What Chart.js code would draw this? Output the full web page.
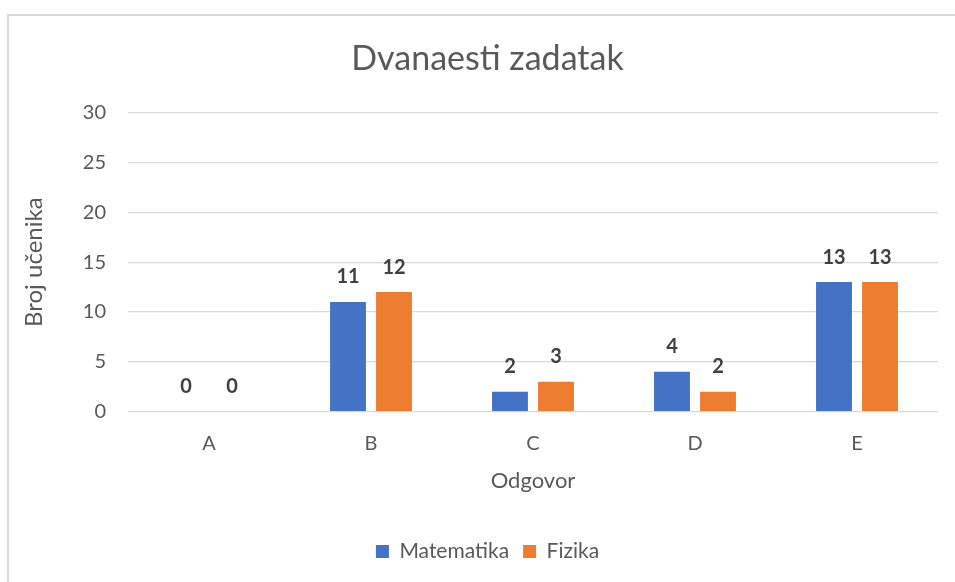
<!DOCTYPE html>
<html>
<head>
<meta charset="utf-8">
<script src="https://cdn.jsdelivr.net/npm/chart.js@4"></script>
<style>
  html, body { margin: 0; padding: 0; background: #fff; }
  #wrap { position: relative; width: 955px; height: 582px; }
</style>
</head>
<body>
<div id="wrap"><canvas id="chart" width="955" height="582"></canvas></div>
<script>
// ── Data ────────────────────────────────────────────────
const answers     = ['A', 'B', 'C', 'D', 'E'];
const matematika  = [0, 11, 2, 4, 13];
const fizika      = [0, 12, 3, 2, 13];
const yTicks      = [0, 5, 10, 15, 20, 25, 30];

const TEXT  = '#595959';
const GRID  = '#D9D9D9';
const FONT  = "Lato, 'Open Sans', sans-serif";

// outer frame (left + top edges, the rest runs off the page)
const framePlugin = {
  id: 'frame',
  beforeDraw(chart) {
    const ctx = chart.ctx;
    ctx.save();
    ctx.strokeStyle = GRID;
    ctx.lineWidth = 2;
    ctx.beginPath();
    ctx.moveTo(8, 582);
    ctx.lineTo(8, 15);
    ctx.lineTo(955, 15);
    ctx.stroke();
    ctx.restore();
  }
};

// value labels above each bar
const valueLabels = {
  id: 'valueLabels',
  afterDatasetsDraw(chart) {
    const ctx = chart.ctx;
    ctx.save();
    ctx.font = 'bold 20px ' + FONT;
    ctx.fillStyle = '#404040';
    ctx.textAlign = 'center';
    ctx.textBaseline = 'middle';
    chart.data.datasets.forEach((ds, i) => {
      chart.getDatasetMeta(i).data.forEach((bar, j) => {
        ctx.fillText(String(ds.data[j]), bar.x, bar.y - 25);
      });
    });
    ctx.restore();
  }
};

new Chart(document.getElementById('chart'), {
  type: 'bar',
  data: {
    labels: answers,
    datasets: [
      { label: 'Matematika', data: matematika, backgroundColor: '#4472C4' },
      { label: 'Fizika',     data: fizika,     backgroundColor: '#ED7D31' },
    ],
  },
  options: {
    responsive: false,
    animation: false,
    // wider left padding keeps title/legend centred on the frame
    layout: { padding: { left: 37, right: 17, top: 0, bottom: 10 } },
    datasets: { bar: { categoryPercentage: 0.568, barPercentage: 0.78 } },
    plugins: {
      title: {
        display: true,
        text: 'Dvanaesti zadatak',
        color: TEXT,
        font: { family: FONT, size: 34, weight: 'normal' },
        padding: { top: 39, bottom: 33 },
      },
      legend: {
        position: 'bottom',
        labels: {
          color: TEXT,
          font: { family: FONT, size: 21 },
          boxWidth: 13,
          boxHeight: 13,
          padding: 14,
        },
      },
      tooltip: { enabled: false },
    },
    scales: {
      x: {
        grid: { display: false },
        border: { display: false },
        ticks: { color: TEXT, font: { family: FONT, size: 20 }, padding: 12 },
        title: {
          display: true,
          text: 'Odgovor',
          color: TEXT,
          font: { family: FONT, size: 22 },
          padding: { top: 0, bottom: 33 },
        },
      },
      y: {
        min: 0,
        max: 30,
        afterBuildTicks: s => { s.ticks = yTicks.map(v => ({ value: v })); },
        grid: { color: GRID, lineWidth: 1.3, drawTicks: false },
        border: { display: false },
        ticks: { color: TEXT, font: { family: FONT, size: 20 }, padding: 22 },
        title: {
          display: true,
          text: 'Broj učenika',
          color: TEXT,
          font: { family: FONT, size: 24 },
          padding: { top: -17, bottom: 12 },
        },
      },
    },
  },
  plugins: [framePlugin, valueLabels],
});
</script>
</body>
</html>
